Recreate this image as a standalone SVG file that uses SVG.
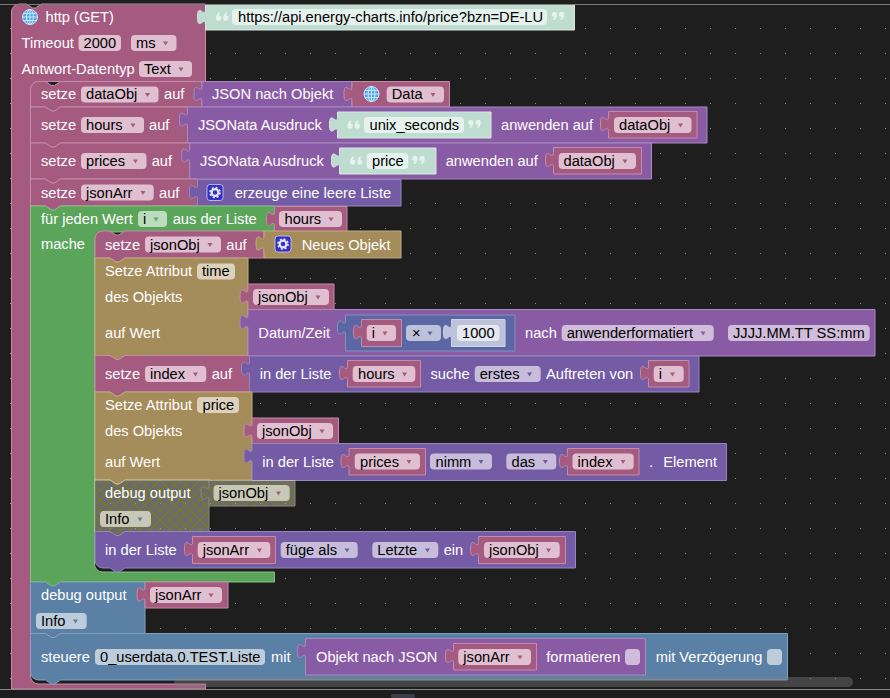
<svg xmlns="http://www.w3.org/2000/svg" width="890" height="698" viewBox="0 0 890 698">
<style>
text{font-family:"Liberation Sans",Arial,sans-serif;font-size:14.67px;fill:#fff}
text.k{fill:#000}
.b{stroke-width:1}
.pk .b{fill:#a55b80;stroke:#c58ba8}.pk .f{fill:#e0bfd0}.pk .a{fill:#a55b80}
.pu .b{fill:#8a5ba5;stroke:#a98ac0}.pu .f{fill:#d0bddb}.pu .a{fill:#8a5ba5}
.li .b{fill:#745ba5;stroke:#9686c0}.li .f{fill:#c7bddb}.li .a{fill:#745ba5}
.ma .b{fill:#5b67a5;stroke:#8490c0}.ma .f{fill:#bdc2db}.ma .a{fill:#5b67a5}
.gr .b{fill:#5ba55b;stroke:#86c086}.gr .f{fill:#bddbbd}.gr .a{fill:#5ba55b}
.ta .b{fill:#a58c5b;stroke:#c0ab83}.ta .f{fill:#dbd1bd}
.bl .b{fill:#5b80a5;stroke:#84a2c0}.bl .f{fill:#bdccdb}.bl .a{fill:#5b80a5}
.st .b{fill:#bfdcd0;stroke:#d5e8e0}.st .f{fill:#e6f2ed}
.ml .b{fill:#bdc2db;stroke:#cfd3e6}.ml .f{fill:#e5e7f1}
.di .b{fill:url(#hatch);stroke:#dcdcd0}.df{fill:#c8c8b6}
</style>
<defs>
<pattern id="grid" patternUnits="userSpaceOnUse" width="25" height="25"><rect x="10" y="3" width="1" height="1" fill="#8a8a8a"/></pattern>
<pattern id="hatch" patternUnits="userSpaceOnUse" width="10" height="10"><rect width="10" height="10" fill="#aaa"/><path d="M0 0L10 10M10 0L0 10" stroke="#cc0" stroke-width="1"/></pattern>
<g id="ql" transform="scale(1.2)"><path d="M2.600 0.200C1 1 0 2.600 0 4.800A2.200 2.200 0 1 0 2.200 2.800C2.400 2 2.800 1.500 3.400 1.200Z"/><path d="M8.600 0.200C7 1 6 2.600 6 4.800A2.200 2.200 0 1 0 8.200 2.800C8.400 2 8.800 1.500 9.400 1.200Z"/></g>
<g id="qr"><use href="#ql" transform="rotate(180 5.600 4.200)"/></g>
<g id="globe"><circle r="7.500" fill="#4fa8e6"/><g fill="none" stroke="#cfe8fa" stroke-width="1"><circle r="7.500"/><ellipse rx="3.400" ry="7.500"/><path d="M-7.500 0H7.500M-6.500-3.600H6.500M-6.500 3.600H6.500M0-7.500V7.500"/></g></g>
<g id="gear"><rect x="-8" y="-8" width="16" height="16" rx="3" fill="#3430c4" stroke="#cfcff0" stroke-width="0.800"/><circle r="3.400" fill="none" stroke="#e4e4fa" stroke-width="2.200"/><circle r="5" fill="none" stroke="#e4e4fa" stroke-width="1.600" stroke-dasharray="2 1.930"/></g>
</defs>
<rect width="890" height="698" fill="#1e1e1e"/>
<rect y="4" width="890" height="685" fill="url(#grid)"/>

<g id="http-get" class="pk">
<path class="b" d="M11.500 12a8 8 0 0 1 8-8H26.500l6 4 3 0 6-4H205.500V81.500H38.500a8 8 0 0 0-8 8V676a8 8 0 0 0 8 8H205.500V689H11.500Z"/>
<use href="#globe" x="30" y="17"/>
<text x="45.500" y="22">http (GET)</text>
<text x="21.500" y="48">Timeout</text>
<rect class="f" x="78.500" y="35" width="42.500" height="16" rx="4"/><text class="k" x="83.500" y="48">2000</text>
<rect class="f" x="131" y="35" width="45.500" height="16" rx="4"/><text class="k" x="136" y="48">ms</text><path class="a" d="M163 41.500h5l-2.500 4z"/>
<text x="21.500" y="74">Antwort-Datentyp</text>
<rect class="f" x="139" y="61" width="53" height="16" rx="4"/><text class="k" x="144" y="74">Text</text><path class="a" d="M178.500 67.500h5l-2.500 4z"/>
</g>
<g id="url-string" class="st">
<path class="b" d="M205.500 4.500H574.500V30H205.500V24.500c0-10-8 8-8-7.500s8 2.500 8-7.500Z"/>
<use href="#ql" x="216" y="12" fill="#e6f2ed"/>
<rect class="f" x="232" y="9" width="315" height="16" rx="4"/><text class="k" x="238" y="22">https://api.energy-charts.info/price?bzn=DE-LU</text>
<use href="#qr" x="553" y="12" fill="#e6f2ed"/>
</g>

<g id="set-dataObj" class="pk">
<path class="b" d="M30.500 89.500a8 8 0 0 1 8-8H45.500l6 4 3 0 6-4H202V107H60.500l-6 4-3 0-6-4H30.500Z"/>
<text x="41" y="99">setze</text>
<rect class="f" x="81" y="86.500" width="77.500" height="16" rx="4"/><text class="k" x="86" y="99">dataObj</text><path class="a" d="M145 93h5l-2.500 4z"/>
<text x="164" y="99">auf</text>
</g>
<g id="json-parse" class="pu">
<path class="b" d="M202 81.500H352V107H202V101.500c0-10-8 8-8-7.500s8 2.500 8-7.500Z"/>
<text x="212" y="99">JSON nach Objekt</text>
</g>
<g id="data" class="pk">
<path class="b" d="M352 81.500H449.500V107H352V101.500c0-10-8 8-8-7.500s8 2.500 8-7.500Z"/>
<use href="#globe" x="371.500" y="94"/>
<rect class="f" x="386.700" y="86.500" width="57.300" height="16" rx="4"/><text class="k" x="391.700" y="99">Data</text><path class="a" d="M430.500 93h5l-2.500 4z"/>
</g>

<g id="set-hours" class="pk">
<path class="b" d="M30.500 107H45.500l6 4 3 0 6-4H187.500V143H60.500l-6 4-3 0-6-4H30.500Z"/>
<text x="41" y="130">setze</text>
<rect class="f" x="81" y="117" width="63" height="16" rx="4"/><text class="k" x="86" y="130">hours</text><path class="a" d="M130.500 123.500h5l-2.500 4z"/>
<text x="149" y="130">auf</text>
</g>
<g id="jsonata-hours" class="pu">
<path class="b" d="M187.500 107H707V143H187.500V127c0-10-8 8-8-7.500s8 2.500 8-7.500Z"/>
<text x="198" y="130">JSONata Ausdruck</text>
<text x="501" y="130">anwenden auf</text>
</g>
<g id="str-unix" class="st">
<path class="b" d="M337.500 112H491V138H337.500V132c0-10-8 8-8-7.500s8 2.500 8-7.500Z"/>
<use href="#ql" x="347.500" y="120" fill="#e6f2ed"/>
<rect class="f" x="364" y="117" width="100" height="16" rx="4"/><text class="k" x="369.500" y="130">unix_seconds</text>
<use href="#qr" x="469.500" y="120" fill="#e6f2ed"/>
</g>
<g id="var-dataObj-1" class="pk">
<path class="b" d="M608.500 111.500H697V138H608.500V131.500c0-10-8 8-8-7.500s8 2.500 8-7.500Z"/>
<rect class="f" x="614" y="117" width="77.500" height="16" rx="4"/><text class="k" x="619" y="130">dataObj</text><path class="a" d="M678 123.500h5l-2.500 4z"/>
</g>

<g id="set-prices" class="pk">
<path class="b" d="M30.500 143H45.500l6 4 3 0 6-4H189.700V179H60.500l-6 4-3 0-6-4H30.500Z"/>
<text x="41" y="166">setze</text>
<rect class="f" x="81" y="153" width="65.500" height="16" rx="4"/><text class="k" x="86" y="166">prices</text><path class="a" d="M133 159.500h5l-2.500 4z"/>
<text x="151.700" y="166">auf</text>
</g>
<g id="jsonata-prices" class="pu">
<path class="b" d="M189.700 143H651.500V179H189.700V163c0-10-8 8-8-7.500s8 2.500 8-7.500Z"/>
<text x="200" y="166">JSONata Ausdruck</text>
<text x="445.700" y="166">anwenden auf</text>
</g>
<g id="str-price" class="st">
<path class="b" d="M339.500 148H436V174H339.500V168c0-10-8 8-8-7.500s8 2.500 8-7.500Z"/>
<use href="#ql" x="350" y="156" fill="#e6f2ed"/>
<rect class="f" x="366.700" y="153" width="41.600" height="16" rx="4"/><text class="k" x="372" y="166">price</text>
<use href="#qr" x="413.500" y="156" fill="#e6f2ed"/>
</g>
<g id="var-dataObj-2" class="pk">
<path class="b" d="M553.500 147.500H641.500V174H553.500V167.500c0-10-8 8-8-7.500s8 2.500 8-7.500Z"/>
<rect class="f" x="558.700" y="153" width="77.300" height="16" rx="4"/><text class="k" x="563.500" y="166">dataObj</text><path class="a" d="M622.500 159.500h5l-2.500 4z"/>
</g>

<g id="set-jsonArr" class="pk">
<path class="b" d="M30.500 179H45.500l6 4 3 0 6-4H197.500V206H60.500l-6 4-3 0-6-4H30.500Z"/>
<text x="41" y="198">setze</text>
<rect class="f" x="81" y="184.500" width="72.700" height="16" rx="4"/><text class="k" x="86" y="198">jsonArr</text><path class="a" d="M140.500 191h5l-2.500 4z"/>
<text x="159" y="198">auf</text>
</g>
<g id="empty-list" class="li">
<path class="b" d="M197.500 179.500H401V206H197.500V199.500c0-10-8 8-8-7.500s8 2.500 8-7.500Z"/>
<use href="#gear" x="215" y="192.500"/>
<text x="234.700" y="198">erzeuge eine leere Liste</text>
</g>

<g id="for-each" class="gr">
<path class="b" d="M30.500 206H45.500l6 4 3 0 6-4H274.500V232H102.500a8 8 0 0 0-8 8V564a8 8 0 0 0 8 8H274.500V582H60.500l-6 4-3 0-6-4H30.500Z"/>
<text x="41" y="224">für jeden Wert</text>
<rect class="f" x="138" y="211" width="29" height="16" rx="4"/><text class="k" x="143" y="224">i</text><path class="a" d="M153.500 217.500h5l-2.500 4z"/>
<text x="172.700" y="224">aus der Liste</text>
<text x="41" y="249">mache</text>
</g>
<g id="var-hours-1" class="pk">
<path class="b" d="M274.500 206.500H347V232H274.500V226.500c0-10-8 8-8-7.500s8 2.500 8-7.500Z"/>
<rect class="f" x="279" y="211" width="63" height="16" rx="4"/><text class="k" x="284.500" y="224">hours</text><path class="a" d="M328.500 217.500h5l-2.500 4z"/>
</g>

<g id="set-jsonObj" class="pk">
<path class="b" d="M95 239a8 8 0 0 1 8-8H110l6 4 3 0 6-4H264V258H125l-6 4-3 0-6-4H95Z"/>
<text x="105" y="250">setze</text>
<rect class="f" x="145" y="236.500" width="76" height="16" rx="4"/><text class="k" x="150" y="250">jsonObj</text><path class="a" d="M207.500 243h5l-2.500 4z"/>
<text x="226.300" y="250">auf</text>
</g>
<g id="new-object" class="ta">
<path class="b" d="M264 231H401V258H264V251c0-10-8 8-8-7.500s8 2.500 8-7.500Z"/>
<use href="#gear" x="283" y="244"/>
<text x="301.700" y="250">Neues Objekt</text>
</g>

<g id="attr-time" class="ta">
<path class="b" d="M95 258H110l6 4 3 0 6-4H248V355.500H125l-6 4-3 0-6-4H95Z"/>
<text x="105" y="276">Setze Attribut</text>
<rect class="f" x="197" y="263.500" width="38" height="16" rx="4"/><text class="k" x="202" y="276">time</text>
<text x="105" y="302">des Objekts</text>
<text x="105" y="338">auf Wert</text>
</g>
<g id="var-jsonObj-1" class="pk">
<path class="b" d="M248 284H334V309.500H248V304c0-10-8 8-8-7.500s8 2.500 8-7.500Z"/>
<rect class="f" x="253" y="289" width="76" height="16" rx="4"/><text class="k" x="258" y="302">jsonObj</text><path class="a" d="M315.500 295.500h5l-2.500 4z"/>
</g>
<g id="format-date" class="pu">
<path class="b" d="M248 309.500H875V356H248V329.500c0-10-8 8-8-7.500s8 2.500 8-7.500Z"/>
<text x="258.300" y="338">Datum/Zeit</text>
<text x="525" y="338">nach</text>
<rect class="f" x="561.700" y="325" width="152" height="16" rx="4"/><text class="k" x="566.700" y="338">anwenderformatiert</text><path class="a" d="M700.500 331.500h5l-2.500 4z"/>
<rect class="f" x="728" y="325" width="141.700" height="16" rx="4"/><text class="k" x="733" y="338">JJJJ.MM.TT SS:mm</text>
</g>
<g id="multiply" class="ma">
<path class="b" d="M345.500 315H515V351H345.500V335c0-10-8 8-8-7.500s8 2.500 8-7.500Z"/>
<rect class="f" x="406" y="325" width="35" height="16" rx="4"/><text class="k" x="412" y="338">×</text><path class="a" d="M427.500 331.500h5l-2.500 4z"/>
</g>
<g id="var-i-1" class="pk">
<path class="b" d="M361.500 319.500H401.500V346.500H361.500V339.500c0-10-8 8-8-7.500s8 2.500 8-7.500Z"/>
<rect class="f" x="366.700" y="325" width="29.300" height="16" rx="4"/><text class="k" x="371.700" y="338">i</text><path class="a" d="M382.500 331.500h5l-2.500 4z"/>
</g>
<g id="num-1000" class="ml">
<path class="b" d="M451.500 319.500H505V346.500H451.500V339.500c0-10-8 8-8-7.500s8 2.500 8-7.500Z"/>
<rect class="f" x="457" y="325" width="42.500" height="16" rx="4"/><text class="k" x="462" y="338">1000</text>
</g>

<g id="set-index" class="pk">
<path class="b" d="M95 355.500H110l6 4 3 0 6-4H249.500V392H125l-6 4-3 0-6-4H95Z"/>
<text x="105" y="379">setze</text>
<rect class="f" x="145" y="366" width="61.300" height="16" rx="4"/><text class="k" x="150" y="379">index</text><path class="a" d="M193 372.500h5l-2.500 4z"/>
<text x="211.700" y="379">auf</text>
</g>
<g id="index-of" class="li">
<path class="b" d="M249.500 356H699V392H249.500V376c0-10-8 8-8-7.500s8 2.500 8-7.500Z"/>
<text x="259.700" y="379">in der Liste</text>
<text x="430.500" y="379">suche</text>
<rect class="f" x="474.700" y="366" width="66" height="16" rx="4"/><text class="k" x="479.700" y="379">erstes</text><path class="a" d="M527 372.500h5l-2.500 4z"/>
<text x="546" y="379">Auftreten von</text>
</g>
<g id="var-hours-2" class="pk">
<path class="b" d="M347.500 360.500H420.500V387H347.500V380.500c0-10-8 8-8-7.500s8 2.500 8-7.500Z"/>
<rect class="f" x="352.700" y="366" width="62.600" height="16" rx="4"/><text class="k" x="358" y="379">hours</text><path class="a" d="M402 372.500h5l-2.500 4z"/>
</g>
<g id="var-i-2" class="pk">
<path class="b" d="M648.500 360.500H689V387H648.500V380.500c0-10-8 8-8-7.500s8 2.500 8-7.500Z"/>
<rect class="f" x="653.700" y="366" width="30" height="16" rx="4"/><text class="k" x="658.700" y="379">i</text><path class="a" d="M670 372.500h5l-2.500 4z"/>
</g>

<g id="attr-price" class="ta">
<path class="b" d="M95 392H110l6 4 3 0 6-4H252V480H125l-6 4-3 0-6-4H95Z"/>
<text x="105" y="410">Setze Attribut</text>
<rect class="f" x="197" y="397" width="42" height="16" rx="4"/><text class="k" x="202.500" y="410">price</text>
<text x="105" y="436">des Objekts</text>
<text x="105" y="467">auf Wert</text>
</g>
<g id="var-jsonObj-2" class="pk">
<path class="b" d="M252 418H338.500V443.500H252V438c0-10-8 8-8-7.500s8 2.500 8-7.500Z"/>
<rect class="f" x="257" y="423" width="76" height="16" rx="4"/><text class="k" x="262" y="436">jsonObj</text><path class="a" d="M319.500 429.500h5l-2.500 4z"/>
</g>
<g id="get-element" class="li">
<path class="b" d="M252 443.500H726.500V480.500H252V463.500c0-10-8 8-8-7.500s8 2.500 8-7.500Z"/>
<text x="262.300" y="467">in der Liste</text>
<rect class="f" x="430" y="453.500" width="62" height="16" rx="4"/><text class="k" x="435.500" y="467">nimm</text><path class="a" d="M478.500 460h5l-2.500 4z"/>
<rect class="f" x="506.300" y="453.500" width="50" height="16" rx="4"/><text class="k" x="511.500" y="467">das</text><path class="a" d="M542.800 460h5l-2.500 4z"/>
<text x="649" y="467">.</text>
<text x="663.300" y="467">Element</text>
</g>
<g id="var-prices" class="pk">
<path class="b" d="M349 448.500H425.500V475H349V468.500c0-10-8 8-8-7.500s8 2.500 8-7.500Z"/>
<rect class="f" x="354.700" y="453.500" width="65.300" height="16" rx="4"/><text class="k" x="360" y="467">prices</text><path class="a" d="M406.500 460h5l-2.500 4z"/>
</g>
<g id="var-index" class="pk">
<path class="b" d="M567.500 448.500H639V475H567.500V468.500c0-10-8 8-8-7.500s8 2.500 8-7.500Z"/>
<rect class="f" x="572.500" y="453.500" width="61.200" height="16" rx="4"/><text class="k" x="577.500" y="467">index</text><path class="a" d="M620.500 460h5l-2.500 4z"/>
</g>

<g id="debug-disabled" class="di">
<g opacity="0.55">
<path class="b" d="M95 480H110l6 4 3 0 6-4H209V531.500H125l-6 4-3 0-6-4H95Z"/>
<path class="b" d="M209 480.500H295V506H209V500.500c0-10-8 8-8-7.500s8 2.500 8-7.500Z"/>
</g>
<text x="105" y="498">debug output</text>
<rect class="df" x="213.500" y="485" width="76.200" height="16" rx="4"/><text class="k" x="218.500" y="498">jsonObj</text><path fill="#a55b80" d="M276 491.500h5l-2.500 4z"/>
<rect class="df" x="100" y="511" width="51" height="16" rx="4"/><text class="k" x="105" y="524">Info</text><path fill="#5b80a5" d="M137.500 517.500h5l-2.500 4z"/>
</g>

<g id="list-add" class="li">
<path class="b" d="M95 531.500H110l6 4 3 0 6-4H575.500V568H125l-6 4-3 0-6-4H103a8 8 0 0 1-8-8Z"/>
<text x="105" y="555">in der Liste</text>
<rect class="f" x="280.700" y="542" width="77" height="16" rx="4"/><text class="k" x="285.700" y="555">füge als</text><path class="a" d="M344.500 548.500h5l-2.500 4z"/>
<rect class="f" x="372.300" y="542" width="66" height="16" rx="4"/><text class="k" x="377.300" y="555">Letzte</text><path class="a" d="M425 548.500h5l-2.500 4z"/>
<text x="443.700" y="555">ein</text>
</g>
<g id="var-jsonArr-1" class="pk">
<path class="b" d="M192.500 536.500H275.500V563.500H192.500V556.500c0-10-8 8-8-7.500s8 2.500 8-7.500Z"/>
<rect class="f" x="197.700" y="542" width="72.600" height="16" rx="4"/><text class="k" x="202.700" y="555">jsonArr</text><path class="a" d="M257 548.500h5l-2.500 4z"/>
</g>
<g id="var-jsonObj-3" class="pk">
<path class="b" d="M478.500 536.500H565.500V563.500H478.500V556.500c0-10-8 8-8-7.500s8 2.500 8-7.500Z"/>
<rect class="f" x="484" y="542" width="75.700" height="16" rx="4"/><text class="k" x="489" y="555">jsonObj</text><path class="a" d="M546 548.500h5l-2.500 4z"/>
</g>

<g id="debug-output" class="bl">
<path class="b" d="M30.500 582H45.500l6 4 3 0 6-4H145V633.500H60.500l-6 4-3 0-6-4H30.500Z"/>
<text x="41" y="600">debug output</text>
<rect class="f" x="36" y="613" width="50.700" height="16" rx="4"/><text class="k" x="41" y="626">Info</text><path class="a" d="M73 619.500h5l-2.500 4z"/>
</g>
<g id="var-jsonArr-2" class="pk">
<path class="b" d="M145 582H228V608H145V602c0-10-8 8-8-7.500s8 2.500 8-7.500Z"/>
<rect class="f" x="150" y="587" width="72" height="16" rx="4"/><text class="k" x="155" y="600">jsonArr</text><path class="a" d="M208.500 593.500h5l-2.500 4z"/>
</g>

<g id="control" class="bl">
<path class="b" d="M30.500 633.500H45.500l6 4 3 0 6-4H787.500V680H60.500l-6 4-3 0-6-4H38.500a8 8 0 0 1-8-8Z"/>
<text x="41" y="662">steuere</text>
<rect class="f" x="95" y="649" width="170" height="16" rx="4"/><text class="k" x="100" y="662">0_userdata.0.TEST.Liste</text>
<text x="271" y="662">mit</text>
<text x="655.700" y="662">mit Verzögerung</text>
<rect class="f" x="767" y="649" width="15" height="16" rx="4"/>
</g>
<g id="object-to-json" class="pu">
<path class="b" d="M305.500 638.500H645.500V675H305.500V658.500c0-10-8 8-8-7.500s8 2.500 8-7.500Z"/>
<text x="316" y="662">Objekt nach JSON</text>
<text x="546.300" y="662">formatieren</text>
<rect class="f" x="625" y="649" width="15" height="16" rx="4"/>
</g>
<g id="var-jsonArr-3" class="pk">
<path class="b" d="M453.500 643.500H536.500V670H453.500V663.500c0-10-8 8-8-7.500s8 2.500 8-7.500Z"/>
<rect class="f" x="458.300" y="649" width="72.700" height="16" rx="4"/><text class="k" x="463.300" y="662">jsonArr</text><path class="a" d="M517.500 655.500h5l-2.500 4z"/>
</g>

<rect x="174" y="677" width="679" height="10" rx="5" fill="#808080" opacity="0.4"/>
<rect y="4" width="890" height="1" fill="#7c7c7c"/>
<rect y="689" width="890" height="9" fill="#1e1e1e"/>
<rect y="689" width="890" height="1" fill="#8a8a8a"/>
<rect x="391" y="694" width="24" height="4" rx="1.500" fill="#3d3d4a"/>
</svg>
